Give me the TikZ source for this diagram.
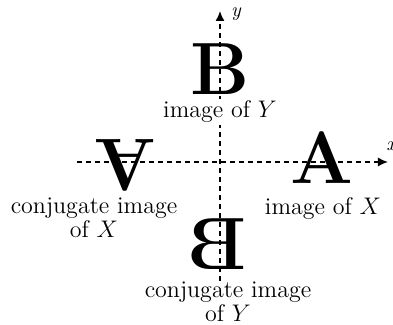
\documentclass[tikz,border=0pt]{standalone}
\usetikzlibrary{arrows.meta}
\tikzset{
  axis/.style={line width=0.75pt, dash pattern=on 2.5pt off 2pt, -{Latex[length=5pt,width=4.5pt]}},
  bigletter/.style={inner sep=0pt, font=\fontsize{37}{37}\selectfont\bfseries},
  lab/.style={inner sep=0pt, align=center, font=\fontsize{12}{9.5}\selectfont},
  axlab/.style={inner sep=0pt, font=\fontsize{10}{10}\selectfont\itshape}
}
\begin{document}
\begin{tikzpicture}[x=0.5pt,y=-0.5pt]
\useasboundingbox (0,0) rectangle (393,325);
% letters
\node[bigletter] (B) at (220,69) {B};
\node[bigletter] (A) at (322,158) {A};
\node[bigletter] (Ac) at (125,165) {\rotatebox[origin=c]{180}{A}};
\node[bigletter] (Bc) at (217,244) {\reflectbox{B}};
% axes endpoints
\coordinate (xs) at (77,162);
\coordinate (xe) at (388,162);
\coordinate (ys) at (220,281);
\coordinate (ye) at (220,11);
\draw[axis] (xs) -- (xe);
\draw[axis] (ys) -- (ye);
\node[axlab] (ylab) at (236,14) {y};
\node[axlab, anchor=west] (xlab) at (386,146) {x};
% labels
\node[lab, fill=white, inner sep=1pt] (lB) at (220,112) {image of $Y$};
\node[lab] (lA) at (323,209) {image of $X$};
\node[lab] (lAc) at (94,218) {conjugate image\\of $X$};
\node[lab, fill=white] (lBc) at (228,302) {conjugate image\\of $Y$};
\end{tikzpicture}
\end{document}
